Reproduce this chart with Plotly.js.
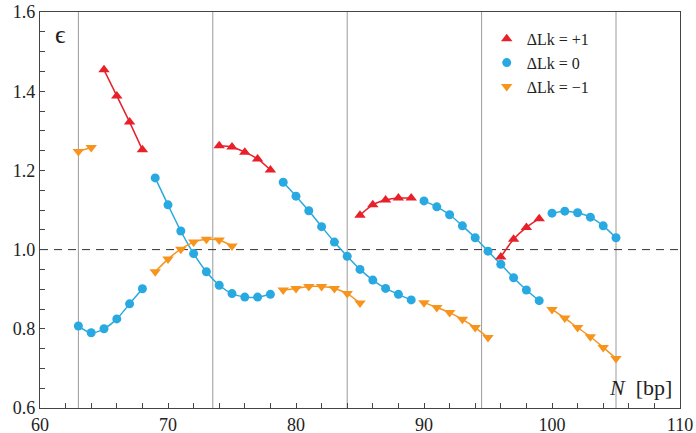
<!DOCTYPE html>
<html><head><meta charset="utf-8">
<script src="https://cdn.plot.ly/plotly-3.0.1.min.js"></script>
<style>html,body{margin:0;padding:0;background:#fff;}#chart{width:696px;height:433px;}</style>
</head><body><div id="chart"></div>
<script>
// Data (null separates segments)
const xPlus = [65,66,67,68,null,74,75,76,77,78,null,85,86,87,88,89,null,96,97,98,99];
const yPlus = [1.454,1.388,1.322,1.252,null,1.262,1.259,1.246,1.229,1.201,null,1.087,1.113,1.125,1.130,1.130,null,0.981,1.026,1.056,1.078];
const xZero = [63,64,65,66,67,68,null,69,70,71,72,73,74,75,76,77,78,null,79,80,81,82,83,84,85,86,87,88,89,null,90,91,92,93,94,95,96,97,98,99,null,100,101,102,103,104,105];
const yZero = [0.807,0.790,0.800,0.825,0.863,0.901,null,1.181,1.113,1.047,0.990,0.944,0.910,0.889,0.880,0.880,0.887,null,1.170,1.135,1.098,1.058,1.019,0.983,0.950,0.923,0.902,0.887,0.873,null,1.123,1.108,1.088,1.060,1.030,0.996,0.963,0.929,0.898,0.871,null,1.092,1.097,1.093,1.082,1.060,1.030];
const xMinus = [63,64,null,69,70,71,72,73,74,75,null,79,80,81,82,83,84,85,null,90,91,92,93,94,95,null,100,101,102,103,104,105];
const yMinus = [1.248,1.258,null,0.944,0.976,1.001,1.019,1.026,1.024,1.009,null,0.898,0.902,0.907,0.907,0.902,0.889,0.865,null,0.866,0.854,0.841,0.824,0.803,0.778,null,0.849,0.827,0.803,0.780,0.753,0.725];
const helixLines = [63,73.5,84,94.5,105];
const names = ['ΔLk = +1','ΔLk = 0','ΔLk = −1'];

const cRed='#e8202a', cBlue='#29a9e1', cOrange='#f7941d';
const serif = "'Liberation Serif', 'Times New Roman', 'DejaVu Serif', serif";

function lineTrace(x,y,c){return {x:x,y:y,mode:'lines',line:{color:c,width:1.5,shape:'spline',smoothing:0.8},connectgaps:false,showlegend:false,hoverinfo:'skip'};}
function markTrace(x,y,c,sym,sz,name){return {x:x,y:y,mode:'markers',marker:{color:c,symbol:sym,size:sz},name:name};}

const data = [
  lineTrace(xPlus,yPlus,cRed), lineTrace(xZero,yZero,cBlue), lineTrace(xMinus,yMinus,cOrange),
  markTrace(xPlus,yPlus,cRed,'triangle-up',10,names[0]),
  markTrace(xZero,yZero,cBlue,'circle',9,names[1]),
  markTrace(xMinus,yMinus,cOrange,'triangle-down',10,names[2])
];

const shapes = helixLines.map(v=>({type:'line',xref:'x',yref:'paper',x0:v,x1:v,y0:0,y1:1,line:{color:'#9a9a9a',width:1},layer:'below'}));
shapes.push({type:'line',xref:'paper',yref:'y',x0:0,x1:1,y0:1,y1:1,line:{color:'#333',width:1,dash:'8px,6px'},layer:'below'});

const layout = {
  width:696,height:433,
  margin:{l:40,r:16,t:12,b:25},
  paper_bgcolor:'#fff',plot_bgcolor:'#fff',
  font:{family:serif,size:18,color:'#222'},
  showlegend:true,
  legend:{x:0.698,y:0.975,xanchor:'left',yanchor:'top',bgcolor:'rgba(0,0,0,0)',font:{family:serif,size:16,color:'#222'},tracegroupgap:0,itemwidth:30},
  xaxis:{range:[60,110],dtick:10,tick0:60,ticks:'inside',ticklen:5,tickcolor:'#444',showgrid:false,zeroline:false,
    showline:true,linecolor:'#444',linewidth:1.2,mirror:true,
    minor:{dtick:2,ticks:'inside',ticklen:5,tickcolor:'#444',showgrid:false},
    tickfont:{family:serif,size:18,color:'#222'}},
  yaxis:{range:[0.6,1.6],dtick:0.2,tick0:0.6,tickformat:'.1f',ticks:'inside',ticklen:5,tickcolor:'#444',showgrid:false,zeroline:false,
    showline:true,linecolor:'#444',linewidth:1.2,mirror:true,
    minor:{dtick:0.05,ticks:'inside',ticklen:5,tickcolor:'#444',showgrid:false},
    tickfont:{family:serif,size:18,color:'#222'}},
  shapes:shapes,
  annotations:[
    {xref:'paper',yref:'paper',x:0.02,y:0.985,xanchor:'left',yanchor:'top',text:'ϵ',showarrow:false,font:{family:serif,size:26,color:'#222'}},
    {xref:'paper',yref:'paper',x:0.99,y:0.015,xanchor:'right',yanchor:'bottom',text:'<i>N</i>  [bp]',showarrow:false,font:{family:serif,size:22,color:'#222'}}
  ]
};
Plotly.newPlot('chart',data,layout,{displayModeBar:false,staticPlot:true});
</script></body></html>
